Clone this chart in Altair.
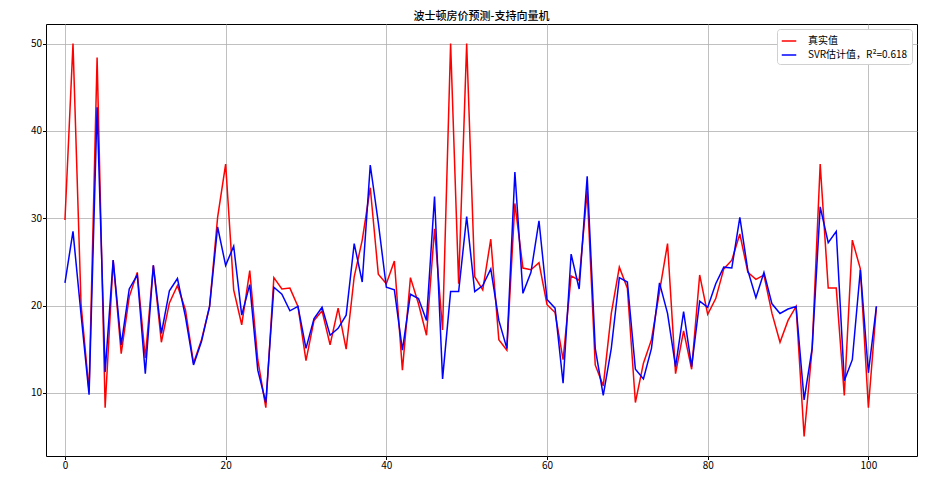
import altair as alt
import pandas as pd

idx = list(range(102))

y_true = [29.8, 50.0, 20.2, 10.2, 48.4, 8.3, 25.2, 14.5, 21.0, 23.8,
          14.0, 24.6, 15.8, 20.3, 22.3, 19.5, 13.4, 16.1, 19.9, 30.1,
          36.2, 21.8, 17.8, 24.0, 13.8, 8.3, 23.2, 21.9, 22.0, 19.9,
          13.7, 18.3, 19.4, 15.5, 19.7, 15.0, 23.3, 27.5, 33.5, 23.6,
          22.5, 25.1, 12.6, 23.2, 20.2, 16.6, 28.8, 17.2, 50.0, 22.5,
          50.0, 23.3, 21.8, 27.6, 16.1, 14.9, 31.7, 24.3, 24.1, 24.9,
          20.1, 19.2, 13.8, 23.4, 22.9, 33.1, 13.2, 10.8, 19.1, 24.4,
          22.0, 8.9, 13.4, 16.1, 21.6, 27.1, 12.2, 17.1, 12.7, 23.5,
          19.0, 20.8, 24.2, 25.2, 28.2, 23.8, 23.0, 23.5, 19.1, 15.8,
          18.3, 19.9, 5.0, 15.1, 36.2, 22.0, 22.0, 9.7, 27.5, 24.2,
          8.3, 19.9]

y_pred = [22.6, 28.5, 19.0, 9.8, 42.7, 12.4, 25.2, 15.5, 21.9, 23.5,
          12.2, 24.6, 16.8, 21.7, 23.1, 18.7, 13.2, 15.9, 19.9, 29.0,
          24.6, 26.8, 18.9, 22.4, 12.6, 8.9, 22.1, 21.3, 19.4, 19.9,
          15.1, 18.5, 19.8, 16.6, 17.4, 18.9, 27.1, 22.7, 36.1, 29.5,
          22.1, 21.8, 14.9, 21.3, 20.8, 18.3, 32.5, 11.6, 21.6, 21.6,
          30.2, 21.6, 22.3, 24.2, 18.3, 15.1, 35.3, 21.4, 23.8, 29.7,
          20.7, 19.7, 11.1, 25.9, 21.9, 34.8, 15.1, 9.7, 15.1, 23.2,
          22.7, 12.7, 11.6, 15.1, 22.6, 19.1, 13.0, 19.3, 13.0, 20.5,
          19.8, 22.5, 24.4, 24.3, 30.1, 24.0, 20.9, 23.8, 20.2, 19.1,
          19.6, 19.9, 9.2, 15.1, 31.3, 27.2, 28.5, 11.4, 13.8, 24.1,
          12.3, 19.9]

series_names = ["真实值", "SVR估计值，R²=0.618"]
series_colors = ["red", "blue"]
x_ticks = [0, 20, 40, 60, 80, 100]
y_ticks = [10, 20, 30, 40, 50]
title_text = "波士顿房价预测-支持向量机"

df = pd.DataFrame({
    "i": idx + idx,
    "v": y_true + y_pred,
    "s": [series_names[0]] * len(idx) + [series_names[1]] * len(idx),
})

FONT = "Noto Sans CJK SC"

color_enc = alt.Color(
    "s:N",
    scale=alt.Scale(domain=series_names, range=series_colors),
    legend=alt.Legend(
        title=None, orient="top-right", offset=5,
        fillColor="white", strokeColor="#d0d0d0", cornerRadius=3,
        padding=4, rowPadding=1, labelOffset=11,
        symbolType="stroke", symbolSize=210, symbolStrokeWidth=1.5,
        labelFont=FONT, labelFontSize=10, labelColor="black",
    ),
)

x_enc = alt.X("i:Q", scale=alt.Scale(domain=[-2.36, 106.05], nice=False, zero=False),
              axis=alt.Axis(values=x_ticks, title=None, format="d"))
y_enc = alt.Y("v:Q", scale=alt.Scale(domain=[2.77, 52.25], nice=False, zero=False),
              axis=alt.Axis(values=y_ticks, title=None, format="d"))

base = alt.Chart(df)
red_line = base.transform_filter(alt.datum.s == series_names[0]).mark_line(strokeWidth=1.5).encode(
    x=x_enc, y=y_enc, color=color_enc)
blue_line = base.transform_filter(alt.datum.s == series_names[1]).mark_line(strokeWidth=1.5).encode(
    x=x_enc, y=y_enc, color=color_enc)

chart = alt.layer(red_line, blue_line).properties(
    width=871, height=432,
    title=alt.TitleParams(title_text, font=FONT, fontSize=11, fontWeight=500,
                          color="black", offset=2, anchor="middle"),
    autosize=alt.AutoSizeParams(type="none"),
    padding={"left": 38, "top": 16, "right": 2, "bottom": 15},
).configure_view(
    stroke="black", strokeWidth=1
).configure_axis(
    grid=True, gridColor="#b0b0b0", gridWidth=0.8, gridOpacity=1,
    domain=False, tickColor="black", tickSize=3.5, tickWidth=1,
    labelFont=FONT, labelFontSize=10, labelColor="black", labelPadding=1,
)

chart.save("out.html", embed_options={"renderer": "svg", "actions": False})
